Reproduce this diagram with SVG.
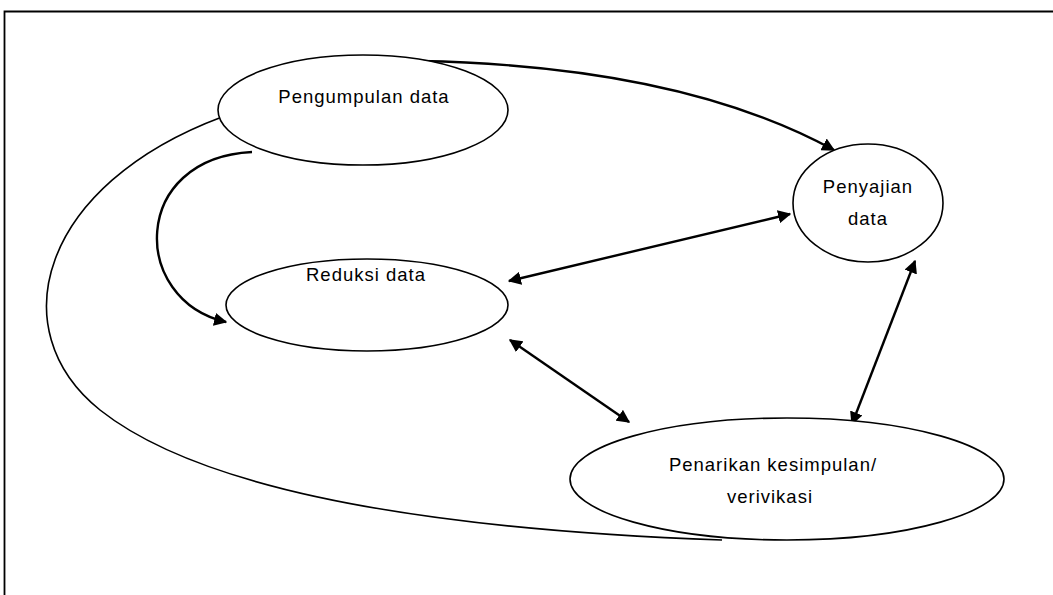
<svg xmlns="http://www.w3.org/2000/svg" width="1053" height="595" viewBox="0 0 1053 595">
<style>
.node ellipse{fill:#fff;stroke:#000;stroke-width:1.6}
.lbl{font-family:"Liberation Sans",Arial,sans-serif;font-size:18.5px;letter-spacing:1px;fill:#000;text-anchor:middle}
.c{fill:none;stroke:#000;stroke-width:2.4}
.thin{fill:none;stroke:#000;stroke-width:1.6}
</style>
<defs>
<marker id="ah" viewBox="0 0 10 10" refX="9" refY="5" markerWidth="5.5" markerHeight="5.5" orient="auto-start-reverse" markerUnits="strokeWidth">
<path d="M0,0 L10,5 L0,10 z" fill="#000"/>
</marker>
</defs>
<rect width="1053" height="595" fill="#fff"/>
<path d="M4.5 595 V11.5 H1053" fill="none" stroke="#000" stroke-width="1.8"/>
<g id="connectors">
<path class="thin" d="M222 117 C40 185 0 330 100 410 C220 505 500 532 722 540"/>
<path class="c" d="M420 61 Q680 66 834 150" marker-end="url(#ah)"/>
<path class="c" d="M252 152 C130 158 130 300 226 322" marker-end="url(#ah)"/>
<line class="c" x1="509" y1="281" x2="790" y2="214" marker-start="url(#ah)" marker-end="url(#ah)"/>
<line class="c" x1="510" y1="340" x2="629" y2="422" marker-start="url(#ah)" marker-end="url(#ah)"/>
<line class="c" x1="915" y1="261" x2="852" y2="424" marker-start="url(#ah)" marker-end="url(#ah)"/>
</g>
<g id="pengumpulan" class="node">
<ellipse cx="363" cy="110" rx="145" ry="55"/>
<text class="lbl" x="364" y="103">Pengumpulan data</text>
</g>
<g id="penyajian" class="node">
<ellipse cx="868" cy="203" rx="75" ry="59"/>
<text class="lbl" x="868" y="193">Penyajian</text>
<text class="lbl" x="868" y="225">data</text>
</g>
<g id="reduksi" class="node">
<ellipse cx="367" cy="305" rx="141" ry="46"/>
<text class="lbl" x="366" y="281">Reduksi data</text>
</g>
<g id="penarikan" class="node">
<ellipse cx="787" cy="479" rx="217" ry="61"/>
<text class="lbl" x="773" y="471">Penarikan kesimpulan/</text>
<text class="lbl" x="770" y="503">verivikasi</text>
</g>
</svg>
